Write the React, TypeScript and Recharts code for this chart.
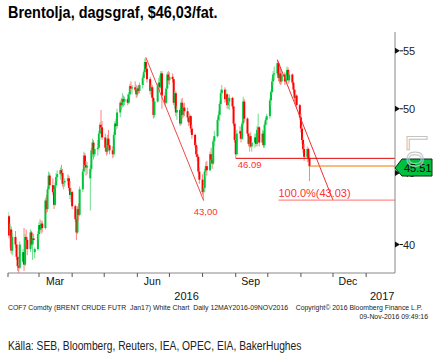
import {
  ComposedChart,
  Bar,
  XAxis,
  YAxis,
  ReferenceLine,
  ReferenceDot,
} from "recharts";

// daily open, high, low, close, Mon-Fri from 1 Feb 2016 (one line = one week)
const ohlc: number[][] = [
  [41.2, 42.2, 40.6, 41.9], [41.9, 42.0, 40.4, 40.6], [40.6, 41.4, 39.8, 41.0], [41.0, 41.2, 39.4, 39.6], [39.6, 40.8, 39.3, 40.5],
  [40.5, 40.9, 39.8, 40.0], [40.0, 40.3, 39.0, 39.2], [39.2, 39.9, 38.3, 38.6], [38.6, 39.0, 38.1, 38.5], [38.5, 40.2, 38.4, 40.0],
  [38.9, 39.7, 38.8, 39.5], [39.5, 41.1, 38.3, 38.7], [38.7, 40.7, 38.6, 40.5], [40.5, 41.0, 40.0, 40.3], [40.3, 40.5, 39.3, 39.7],
  [39.7, 41.0, 39.5, 40.8], [40.8, 40.9, 39.8, 40.0], [40.0, 40.6, 39.0, 40.4], [40.4, 40.7, 40.1, 40.3], [39.5, 39.8, 39.1, 39.7],
  [39.7, 40.9, 39.6, 40.7], [40.7, 41.5, 40.3, 41.3], [41.3, 41.7, 40.8, 41.0], [41.0, 41.6, 40.7, 41.4], [41.4, 41.6, 40.8, 41.1],
  [41.1, 43.2, 41.0, 43.0], [43.0, 43.4, 42.1, 42.4], [42.4, 44.0, 42.2, 43.8], [43.8, 45.1, 43.5, 44.8], [44.8, 45.0, 43.9, 44.1],
  [44.1, 44.6, 43.4, 43.6], [43.6, 43.8, 42.4, 42.7], [42.7, 44.3, 42.6, 44.1], [44.1, 45.0, 43.9, 44.7], [44.7, 45.2, 44.4, 44.9],
  [44.9, 45.4, 44.5, 45.2], [45.2, 45.6, 44.8, 45.0], [45.0, 45.3, 44.0, 44.2], [44.2, 44.5, 43.8, 44.3], [44.3, 44.6, 44.0, 44.4],
  [44.4, 44.9, 44.1, 44.6], [44.6, 44.8, 43.7, 43.9], [43.9, 44.4, 43.1, 43.4], [43.4, 43.9, 42.9, 43.6], [43.6, 43.7, 42.4, 42.6],
  [42.6, 42.7, 41.5, 41.7], [41.7, 41.9, 40.3, 40.8], [40.8, 42.6, 40.7, 42.4], [42.4, 42.8, 41.6, 42.0], [42.0, 44.0, 41.9, 43.8],
  [43.8, 45.3, 43.6, 45.1], [45.1, 46.6, 44.9, 46.3], [46.3, 46.5, 45.2, 45.6], [45.6, 45.9, 44.8, 45.4], [45.4, 45.8, 44.9, 45.5],
  [44.6, 45.6, 42.3, 45.3], [45.3, 46.9, 45.1, 46.7], [46.7, 47.6, 46.2, 47.3], [47.3, 47.5, 46.0, 46.4], [46.4, 47.0, 46.2, 46.8],
  [46.8, 47.5, 46.3, 46.9], [46.9, 48.2, 46.7, 48.0], [48.0, 48.9, 47.6, 48.7], [48.7, 49.9, 48.2, 48.5], [48.5, 49.0, 47.5, 47.7],
  [47.7, 48.0, 46.6, 46.9], [46.9, 47.2, 46.3, 46.6], [46.6, 47.9, 46.4, 47.6], [47.6, 48.3, 46.9, 47.1], [47.1, 47.6, 46.4, 46.7],
  [46.7, 47.0, 46.1, 46.4], [46.4, 48.1, 46.2, 47.9], [47.9, 49.0, 47.6, 48.8], [48.8, 49.2, 48.3, 48.6], [48.6, 50.0, 48.4, 49.7],
  [49.7, 50.7, 49.3, 50.5], [50.5, 50.9, 49.9, 50.3], [50.3, 51.3, 50.1, 50.8], [50.8, 51.1, 50.2, 50.6], [50.6, 51.0, 50.3, 50.8],
  [50.8, 51.2, 50.3, 50.5], [50.5, 51.4, 50.4, 51.2], [51.2, 52.1, 51.0, 51.9], [51.9, 52.3, 51.4, 51.7], [51.7, 52.0, 51.2, 51.8],
  [51.8, 52.3, 51.4, 51.6], [51.6, 52.0, 50.9, 51.2], [51.2, 51.9, 51.0, 51.7], [51.7, 52.0, 51.3, 51.5], [51.5, 52.2, 51.3, 52.0],
  [52.0, 52.8, 51.7, 52.6], [52.6, 53.3, 52.3, 53.1], [53.1, 54.3, 52.9, 54.0], [54.0, 54.4, 53.2, 53.4], [53.4, 53.6, 52.2, 52.5],
  [52.5, 52.7, 51.2, 51.5], [51.5, 52.1, 51.0, 51.8], [51.8, 52.0, 50.6, 50.9], [50.9, 51.0, 49.2, 49.5], [49.5, 50.8, 49.3, 50.6],
  [50.6, 52.1, 50.5, 51.9], [51.9, 52.6, 51.4, 52.2], [52.2, 52.8, 51.5, 51.8], [51.8, 53.2, 51.7, 53.0], [53.0, 53.2, 50.0, 51.1],
  [51.1, 51.4, 50.2, 50.5], [50.5, 51.9, 50.4, 51.7], [51.7, 53.1, 51.6, 52.9], [52.9, 53.2, 52.1, 52.4], [52.4, 53.1, 52.0, 52.7],
  [52.7, 53.0, 52.2, 52.5], [52.5, 52.6, 50.3, 50.5], [50.5, 51.5, 50.0, 51.3], [51.3, 51.5, 49.4, 49.7], [49.7, 50.2, 49.1, 49.9],
  [49.9, 50.1, 48.6, 48.8], [48.8, 50.8, 48.7, 50.5], [50.5, 50.9, 49.2, 49.5], [49.5, 50.4, 49.3, 50.1], [50.1, 50.5, 49.4, 49.8],
  [49.8, 50.1, 49.0, 49.3], [49.3, 49.6, 48.6, 48.9], [48.9, 49.6, 48.7, 49.4], [49.4, 49.5, 48.1, 48.4], [48.4, 48.7, 47.6, 47.9],
  [47.9, 48.0, 46.9, 47.1], [47.1, 47.3, 46.2, 46.4], [46.4, 47.0, 45.9, 46.2], [46.2, 46.3, 44.9, 45.1], [45.1, 45.4, 44.2, 44.5],
  [44.5, 44.9, 43.4, 43.6], [43.6, 44.1, 43.0, 43.9], [43.9, 45.3, 43.6, 45.1], [45.1, 45.8, 44.6, 45.5], [45.5, 45.9, 44.8, 45.2],
  [45.2, 46.6, 45.1, 46.4], [46.4, 46.9, 45.7, 46.0], [46.0, 46.4, 45.3, 45.7], [45.7, 47.6, 45.6, 47.4], [47.4, 48.2, 47.0, 47.8],
  [47.8, 49.3, 47.7, 49.1], [49.1, 49.8, 48.6, 49.5], [49.5, 50.6, 49.0, 50.4], [50.4, 51.6, 50.2, 51.3], [51.3, 52.0, 50.8, 51.6],
  [51.6, 51.8, 50.5, 50.8], [50.8, 51.6, 50.6, 51.2], [51.2, 51.3, 50.0, 50.3], [50.3, 51.0, 50.0, 50.6], [50.6, 51.2, 49.9, 50.9],
  [50.9, 51.0, 50.0, 50.2], [50.2, 50.4, 48.6, 48.8], [48.8, 49.0, 47.3, 47.5], [47.5, 47.6, 46.09, 46.4], [46.4, 48.3, 46.3, 48.0],
  [48.0, 48.6, 47.6, 48.2], [48.2, 48.5, 47.3, 47.6], [47.6, 49.0, 47.5, 48.8], [48.8, 51.0, 48.6, 50.6], [50.6, 50.8, 48.9, 49.2],
  [49.2, 49.3, 47.8, 48.0], [48.0, 48.2, 47.0, 47.2], [47.2, 48.0, 46.6, 47.8], [47.8, 48.1, 46.9, 47.0], [47.0, 47.4, 46.6, 47.3],
  [47.3, 48.0, 46.9, 47.7], [47.7, 48.0, 47.0, 47.2], [47.2, 48.6, 47.0, 48.3], [48.3, 49.6, 48.1, 48.5], [48.5, 48.6, 47.0, 47.3],
  [47.3, 48.3, 47.1, 48.0], [48.0, 48.2, 46.9, 47.1], [47.1, 48.9, 46.9, 48.7], [48.7, 49.3, 48.3, 49.1], [49.1, 49.6, 48.7, 49.4],
  [49.4, 50.9, 49.2, 50.7], [50.7, 51.6, 50.3, 51.4], [51.4, 52.6, 51.2, 52.3], [52.3, 53.2, 52.0, 52.9], [52.9, 53.6, 52.4, 53.0],
  [53.0, 54.2, 52.8, 53.9], [53.9, 54.0, 52.3, 52.6], [52.6, 53.4, 52.1, 53.0], [53.0, 53.5, 52.0, 52.3], [52.3, 53.2, 52.1, 52.9],
  [52.9, 53.1, 52.0, 52.3], [52.3, 53.0, 52.1, 52.8], [52.8, 53.6, 52.5, 53.3], [53.3, 53.5, 52.1, 52.4], [52.4, 53.2, 52.2, 52.9],
  [52.9, 53.0, 52.0, 52.2], [52.2, 52.4, 51.3, 51.6], [51.6, 51.9, 50.6, 50.9], [50.9, 51.5, 50.4, 51.1], [51.1, 51.2, 50.0, 50.3],
  [50.3, 50.4, 49.1, 49.3], [49.3, 49.6, 48.1, 48.4], [48.4, 48.6, 47.2, 47.5], [47.5, 47.7, 46.5, 46.8], [46.8, 47.2, 45.9, 46.2],
  [46.2, 47.0, 45.8, 46.8], [46.8, 46.9, 45.9, 46.1], [46.1, 46.4, 44.4, 45.5],
];

// days counted from 1 Feb 2016
const monthStarts = [0, 29, 60, 90, 121, 151, 182, 213, 243, 274, 304, 335];
const monthLabelDays = [44, 135, 227, 318];
const monthLabels = ["Mar", "Jun", "Sep", "Dec"];
const yearTicks = [167, 335, 350];
const yearLabels = ["2016", "", "2017"];

const lastPrice = 45.51;
const supportLevel = 46.09;
const fibLevel = 43.03;
const priceTicks = [40, 45, 50, 55, lastPrice];
const trend1 = [{ x: 129, y: 54.4 }, { x: 183, y: 43.0 }];
const trend2 = [{ x: 252, y: 54.2 }, { x: 304, y: 43.03 }];

const data = ohlc.map((b, i) => ({
  day: Math.floor(i / 5) * 7 + (i % 5),
  range: [b[2], b[1]],
  open: b[0],
  close: b[3],
}));

const DOMAIN_X: [number, number] = [0, 362];

const Candle = (props: any) => {
  const { x, y, width, height, payload } = props;
  if (!payload || height == null) return null;
  const [lo, hi] = payload.range;
  const toY = (p: number) =>
    y + ((Math.log(hi) - Math.log(p)) / (Math.log(hi) - Math.log(lo))) * height;
  const cx = x + width / 2;
  const yo = toY(payload.open);
  const yc = toY(payload.close);
  const up = payload.close >= payload.open;
  return (
    <g>
      <line x1={cx} x2={cx} y1={y} y2={y + height} stroke={up ? "#6edc8c" : "#ff8080"} strokeWidth={1} />
      <rect
        x={cx - 1}
        y={Math.min(yo, yc)}
        width={2}
        height={Math.max(1, Math.abs(yo - yc))}
        fill={up ? "#00c43c" : "#ff0000"}
      />
    </g>
  );
};

// right axis: arrow ticks, and the last-price tag drawn on top
const PriceTick = (props: any) => {
  const { x, y, payload } = props;
  if (payload.value === lastPrice) {
    return (
      <g>
        <polygon
          points={`${x},${y + 2} ${x + 7},${y - 7} ${x + 37},${y - 7} ${x + 37},${y + 10} ${x + 7},${y + 10}`}
          fill="#00c040"
          stroke="#0a2a10"
          strokeWidth={1}
        />
        <text x={x + 9} y={y + 6} fontSize={11} fill="#000" fontFamily="Liberation Sans">
          {payload.value.toFixed(2)}
        </text>
      </g>
    );
  }
  return (
    <g>
      <polygon points={`${x},${y - 3} ${x + 5},${y} ${x},${y + 3}`} fill="#111" />
      <line x1={x + 5} x2={x + 8} y1={y} y2={y} stroke="#111" />
      <text x={x + 8} y={y + 4} fontSize={11} fill="#222" fontFamily="Liberation Sans">
        {payload.value}
      </text>
    </g>
  );
};

const YearTick = (props: any) => {
  const { x, y, payload } = props;
  const i = yearTicks.indexOf(payload.value);
  if (yearLabels[i] === "") {
    return <line x1={x} x2={x} y1={y - 4} y2={y + 9} stroke="#777" />;
  }
  return (
    <text x={x} y={y + 9} textAnchor="middle" fontSize={11} fill="#111" fontFamily="Liberation Sans">
      {yearLabels[i]}
    </text>
  );
};

const textStyle = { fontFamily: "Liberation Sans", fontSize: 9.5, fill: "#ff3030" };

const App = () => {
  return (
    <div style={{ position: "absolute", left: 0, top: 0, width: 435, height: 358, background: "#fff", overflow: "hidden" }}>
      <div
        style={{
          position: "absolute",
          left: 8,
          top: 4,
          fontFamily: "Liberation Sans",
          fontWeight: "bold",
          fontSize: 17,
          lineHeight: "17px",
          whiteSpace: "nowrap",
          color: "#000",
          transform: "scaleX(0.85)",
          transformOrigin: "left top",
        }}
      >
        Brentolja, dagsgraf, $46,03/fat.
      </div>
      <ComposedChart
        width={435}
        height={358}
        data={data}
        margin={{ top: 32, right: 0, bottom: 53, left: 8 }}
      >
        <XAxis
          xAxisId="days"
          type="number"
          dataKey="day"
          domain={DOMAIN_X}
          allowDataOverflow
          ticks={monthStarts}
          tickSize={4}
          tickLine={{ stroke: "#555" }}
          axisLine={{ stroke: "#888" }}
          tick={() => <g />}
          height={5}
        />
        <XAxis
          xAxisId="months"
          type="number"
          dataKey="day"
          domain={DOMAIN_X}
          allowDataOverflow
          ticks={monthLabelDays}
          tickFormatter={(v: number) => monthLabels[monthLabelDays.indexOf(v)]}
          axisLine={false}
          tickLine={false}
          tickSize={0}
          tickMargin={0}
          tick={{ fontSize: 10.5, fill: "#111", fontFamily: "Liberation Sans" }}
          height={13}
        />
        <XAxis
          xAxisId="years"
          type="number"
          dataKey="day"
          domain={DOMAIN_X}
          allowDataOverflow
          ticks={yearTicks}
          axisLine={false}
          tickLine={false}
          tickSize={0}
          tickMargin={0}
          tick={<YearTick />}
          height={14}
        />
        <YAxis
          orientation="right"
          scale="log"
          domain={[38.17, 56.73]}
          allowDataOverflow
          ticks={priceTicks}
          interval={0}
          tick={<PriceTick />}
          tickLine={false}
          tickSize={0}
          tickMargin={0}
          axisLine={{ stroke: "#888" }}
          width={40}
        />
        <Bar xAxisId="days" dataKey="range" shape={<Candle />} isAnimationActive={false} />
        <ReferenceLine xAxisId="days" segment={trend1} stroke="#f04848" ifOverflow="visible" />
        <ReferenceLine xAxisId="days" segment={trend2} stroke="#f03030" ifOverflow="visible" />
        <ReferenceLine
          xAxisId="days"
          segment={[{ x: 213, y: supportLevel }, { x: 362, y: supportLevel }]}
          stroke="#e00000"
          ifOverflow="visible"
        />
        <ReferenceLine
          xAxisId="days"
          segment={[{ x: 282, y: lastPrice }, { x: 362, y: lastPrice }]}
          stroke="#f07800"
          ifOverflow="visible"
        />
        <ReferenceLine
          xAxisId="days"
          segment={[{ x: 253, y: fibLevel }, { x: 362, y: fibLevel }]}
          stroke="#ff7070"
          ifOverflow="visible"
        />
        <ReferenceDot
          xAxisId="days"
          x={183}
          y={43.0}
          ifOverflow="visible"
          shape={(p: any) => (
            <text x={p.cx + 2} y={p.cy + 14} textAnchor="middle" {...textStyle}>43,00</text>
          )}
        />
        <ReferenceDot
          xAxisId="days"
          x={213}
          y={supportLevel}
          ifOverflow="visible"
          shape={(p: any) => (
            <text x={p.cx + 2} y={p.cy + 10} {...textStyle}>46.09</text>
          )}
        />
        <ReferenceDot
          xAxisId="days"
          x={253}
          y={fibLevel}
          ifOverflow="visible"
          shape={(p: any) => (
            <text x={p.cx} y={p.cy - 3} {...textStyle} fontSize={11}>100.0%(43.03)</text>
          )}
        />
      </ComposedChart>
      <div
        style={{
          position: "absolute",
          left: 432,
          top: 134,
          fontFamily: "Liberation Sans",
          fontSize: 30,
          lineHeight: "30px",
          color: "transparent",
          WebkitTextStroke: "1px #c4c4c4",
          transform: "rotate(90deg)",
          transformOrigin: "left top",
          whiteSpace: "nowrap",
        }}
      >
        Lo
      </div>
      <div
        style={{
          position: "absolute",
          left: 8,
          top: 304,
          fontFamily: "Liberation Sans",
          fontSize: 6.9,
          lineHeight: "8px",
          whiteSpace: "pre",
          color: "#222",
        }}
      >
        {"COF7 Comdty (BRENT CRUDE FUTR  Jan17) White Chart  Daily 12MAY2016-09NOV2016    Copyright\u00a9 2016 Bloomberg Finance L.P."}
      </div>
      <div
        style={{
          position: "absolute",
          right: 7,
          top: 313,
          fontFamily: "Liberation Sans",
          fontSize: 6.9,
          lineHeight: "8px",
          whiteSpace: "pre",
          color: "#222",
        }}
      >
        09-Nov-2016 09:49:16
      </div>
      <div
        style={{
          position: "absolute",
          left: 8,
          top: 339,
          fontFamily: "Liberation Sans",
          fontSize: 13,
          lineHeight: "14px",
          whiteSpace: "nowrap",
          color: "#222",
          transform: "scaleX(0.79)",
          transformOrigin: "left top",
        }}
      >
        Källa: SEB, Bloomberg, Reuters, IEA, OPEC, EIA, BakerHughes
      </div>
    </div>
  );
};

export default App;
